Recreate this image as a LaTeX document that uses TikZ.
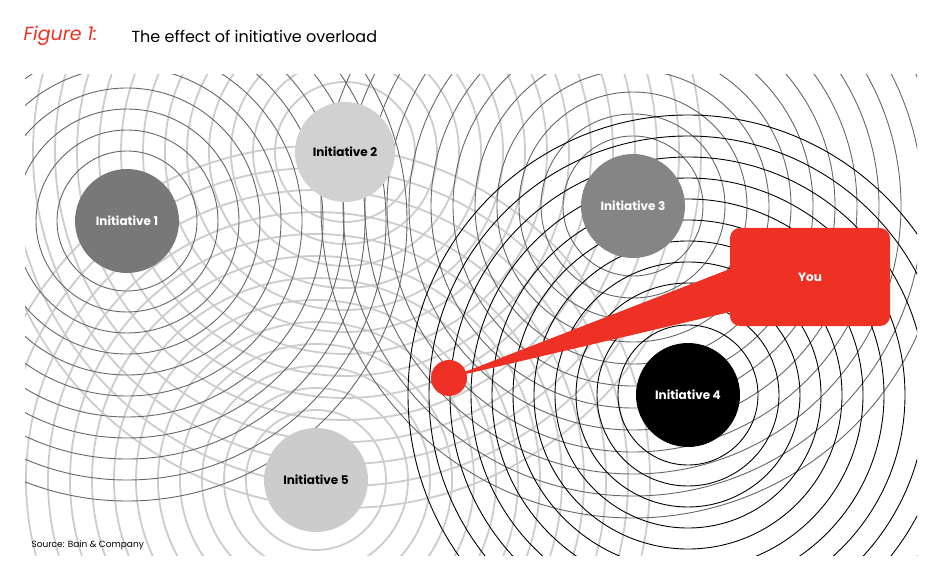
\documentclass[tikz,border=0pt]{standalone}
\usepackage{fontspec}
\setmainfont{Poppins}
\definecolor{bred}{HTML}{EE3124}
\begin{document}
\begin{tikzpicture}[x=1pt,y=-1pt,
  disc/.style={circle,minimum size=104pt,inner sep=0pt,font=\bfseries\fontsize{12}{13}\selectfont},
  ringlight/.style={draw=black!20,line width=1.8pt},
  ringmid/.style={draw=black!60,line width=0.9pt},
  ringdark/.style={draw=black,line width=0.9pt}]
\useasboundingbox (0,0) rectangle (950,577);
\fill[white] (0,0) rectangle (950,577);
\node[anchor=west,text=bred,font=\itshape\fontsize{19}{20}\selectfont] (fig) at (20,36) {Figure 1:};
\node[anchor=west,font=\fontsize{16}{18}\selectfont] (title) at (128,36) {The effect of initiative overload};
\begin{scope}
\clip (25,75) rectangle (917,555);
\foreach \i in {0,...,13} {\draw[ringlight] (345,152) circle ({70+22*\i});}
\foreach \i in {0,...,12} {\draw[ringlight] (316,480) circle ({70+22*\i});}
\foreach \i in {0,...,10} {\draw[ringmid] (127,221) circle ({70+21*\i});}
\foreach \i in {0,...,11} {\draw[ringmid] (633,206) circle ({70+22*\i});}
\foreach \i in {0,...,10} {\draw[ringdark] (688,395) circle ({70+21*\i});}
\end{scope}
\node[disc,fill=black!53,text=white] (i1) at (127,221) {Initiative 1};
\node[disc,fill=black!18,text=black,minimum size=100pt] (i2) at (345,152) {Initiative 2};
\node[disc,fill=black!48,text=white] (i3) at (633,206) {Initiative 3};
\node[disc,fill=black,text=white] (i4) at (688,395) {Initiative 4};
\node[disc,fill=black!20,text=black] (i5) at (316,480) {Initiative 5};
\node[circle,fill=bred,minimum size=36pt,inner sep=0pt] (you0) at (449,378) {};
\node[fill=bred,rounded corners=10pt,minimum width=160pt,minimum height=98pt,text=white,font=\bfseries\fontsize{12}{13}\selectfont] (you) at (810,277) {You};
\fill[bred] (you0.center) -- ([yshift=8pt]you.west) -- ([yshift=-35pt]you.west) -- cycle;
\node[anchor=west,font=\fontsize{9}{10}\selectfont] (src) at (28,545) {Source: Bain \& Company};
\end{tikzpicture}
\end{document}
